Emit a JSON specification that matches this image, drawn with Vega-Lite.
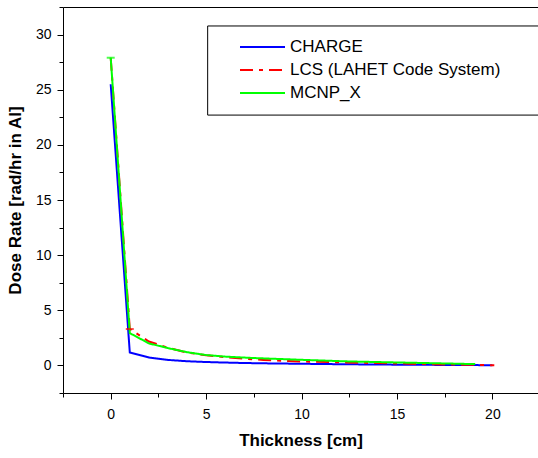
{
  "$schema": "https://vega.github.io/schema/vega-lite/v6.json",
  "width": 475,
  "height": 386,
  "autosize": {"type": "none"},
  "padding": {"left": 63, "top": 7, "right": 0, "bottom": 65},
  "background": "white",
  "config": {
    "view": {"stroke": null},
    "axis": {"domainColor": "black", "tickColor": "black", "labelColor": "black", "titleColor": "black", "labelFont": "Liberation Sans", "titleFont": "Liberation Sans", "grid": false, "tickWidth": 1, "domainWidth": 1}
  },
  "datasets": {
    "lines": [
      {"series": "CHARGE", "x": 0, "y": 25.5},
      {"series": "CHARGE", "x": 1, "y": 1.17},
      {"series": "CHARGE", "x": 2, "y": 0.72},
      {"series": "CHARGE", "x": 3, "y": 0.5},
      {"series": "CHARGE", "x": 4, "y": 0.38},
      {"series": "CHARGE", "x": 5, "y": 0.31},
      {"series": "CHARGE", "x": 6, "y": 0.26},
      {"series": "CHARGE", "x": 7, "y": 0.22},
      {"series": "CHARGE", "x": 8, "y": 0.19},
      {"series": "CHARGE", "x": 9, "y": 0.17},
      {"series": "CHARGE", "x": 10, "y": 0.15},
      {"series": "CHARGE", "x": 12, "y": 0.11},
      {"series": "CHARGE", "x": 14, "y": 0.08},
      {"series": "CHARGE", "x": 16, "y": 0.06},
      {"series": "CHARGE", "x": 18, "y": 0.04},
      {"series": "CHARGE", "x": 20, "y": 0.02},
      {"series": "LCS (LAHET Code System)", "x": 0, "y": 27.9},
      {"series": "LCS (LAHET Code System)", "x": 1, "y": 3.3},
      {"series": "LCS (LAHET Code System)", "x": 2, "y": 2.17},
      {"series": "LCS (LAHET Code System)", "x": 3, "y": 1.6},
      {"series": "LCS (LAHET Code System)", "x": 4, "y": 1.17},
      {"series": "LCS (LAHET Code System)", "x": 5, "y": 0.92},
      {"series": "LCS (LAHET Code System)", "x": 6, "y": 0.75},
      {"series": "LCS (LAHET Code System)", "x": 7, "y": 0.6},
      {"series": "LCS (LAHET Code System)", "x": 8, "y": 0.5},
      {"series": "LCS (LAHET Code System)", "x": 9, "y": 0.42},
      {"series": "LCS (LAHET Code System)", "x": 10, "y": 0.36},
      {"series": "LCS (LAHET Code System)", "x": 12, "y": 0.28},
      {"series": "LCS (LAHET Code System)", "x": 14, "y": 0.21},
      {"series": "LCS (LAHET Code System)", "x": 16, "y": 0.14},
      {"series": "LCS (LAHET Code System)", "x": 18, "y": 0.08},
      {"series": "LCS (LAHET Code System)", "x": 20.1, "y": 0.02},
      {"series": "MCNP_X", "x": 0, "y": 27.9},
      {"series": "MCNP_X", "x": 1, "y": 2.93},
      {"series": "MCNP_X", "x": 2, "y": 2.0},
      {"series": "MCNP_X", "x": 3, "y": 1.57},
      {"series": "MCNP_X", "x": 4, "y": 1.2},
      {"series": "MCNP_X", "x": 5, "y": 0.94},
      {"series": "MCNP_X", "x": 6, "y": 0.8},
      {"series": "MCNP_X", "x": 7.5, "y": 0.67},
      {"series": "MCNP_X", "x": 10, "y": 0.51},
      {"series": "MCNP_X", "x": 12.5, "y": 0.36},
      {"series": "MCNP_X", "x": 15, "y": 0.27},
      {"series": "MCNP_X", "x": 17.5, "y": 0.18},
      {"series": "MCNP_X", "x": 19.1, "y": 0.12}
    ],
    "caps": [
      {"series": "MCNP_X", "x": 0, "y": 27.9},
      {"series": "LCS (LAHET Code System)", "x": 1, "y": 3.3}
    ]
  },
  "layer": [
    {
      "data": {"values": [{}]},
      "mark": {"type": "rect", "fill": "white", "stroke": "black", "strokeWidth": 1, "clip": true},
      "encoding": {
        "x": {"datum": 5.08, "type": "quantitative", "scale": {"domain": [-2.5, 22.39], "nice": false, "zero": false},
          "axis": {"orient": "bottom", "values": [-2.5, 2.5, 7.5, 12.5, 17.5, 22.5], "tickSize": 4, "labels": false, "domain": false, "title": null}},
        "x2": {"datum": 24},
        "y": {"datum": 30.78, "type": "quantitative", "scale": {"domain": [-2.5, 32.5], "nice": false, "zero": false},
          "axis": {"orient": "left", "values": [-2.5, 2.5, 7.5, 12.5, 17.5, 22.5, 27.5, 32.5], "tickSize": 4, "labels": false, "domain": false, "title": null}},
        "y2": {"datum": 22.7}
      }
    },
    {
      "data": {"name": "lines"},
      "mark": {"type": "line", "strokeWidth": 2},
      "encoding": {
        "x": {"field": "x", "type": "quantitative",
          "axis": {"orient": "bottom", "values": [0, 5, 10, 15, 20], "tickSize": 6, "labelFontSize": 14, "labelPadding": 8, "title": "Thickness [cm]", "titleFontSize": 17, "titleFontWeight": "bold", "titlePadding": 11}},
        "y": {"field": "y", "type": "quantitative",
          "axis": {"orient": "left", "values": [0, 5, 10, 15, 20, 25, 30], "tickSize": 6, "labelFontSize": 14, "labelPadding": 6, "title": "Dose Rate [rad/hr in Al]", "titleFontSize": 17, "titleFontWeight": "bold", "titlePadding": 11}},
        "color": {"field": "series", "type": "nominal",
          "scale": {"domain": ["CHARGE", "LCS (LAHET Code System)", "MCNP_X"], "range": ["#0000ff", "#ff0000", "#00ff00"]},
          "legend": {"orient": "none", "legendX": 189.5, "legendY": 30, "title": null, "padding": 0, "labelFont": "Liberation Sans", "labelFontSize": 17, "labelColor": "black", "labelLimit": 400, "symbolType": "M-2.5,0H2.5", "symbolSize": 324, "symbolStrokeWidth": 2, "labelOffset": 17.5, "rowPadding": 5}},
        "strokeDash": {"field": "series", "type": "nominal",
          "scale": {"domain": ["CHARGE", "LCS (LAHET Code System)", "MCNP_X"], "range": [[1, 0], [13, 6, 4, 6], [1, 0]]},
          "legend": null},
        "order": {"field": "x", "type": "quantitative"}
      }
    },
    {
      "data": {"name": "caps"},
      "mark": {"type": "tick", "orient": "horizontal", "size": 8, "thickness": 2},
      "encoding": {
        "x": {"field": "x", "type": "quantitative",
          "axis": {"orient": "top", "ticks": false, "labels": false, "domain": true, "title": null}},
        "y": {"field": "y", "type": "quantitative", "axis": null},
        "color": {"field": "series", "type": "nominal", "legend": null}
      }
    }
  ],
  "resolve": {"axis": {"x": "independent", "y": "independent"}}
}
